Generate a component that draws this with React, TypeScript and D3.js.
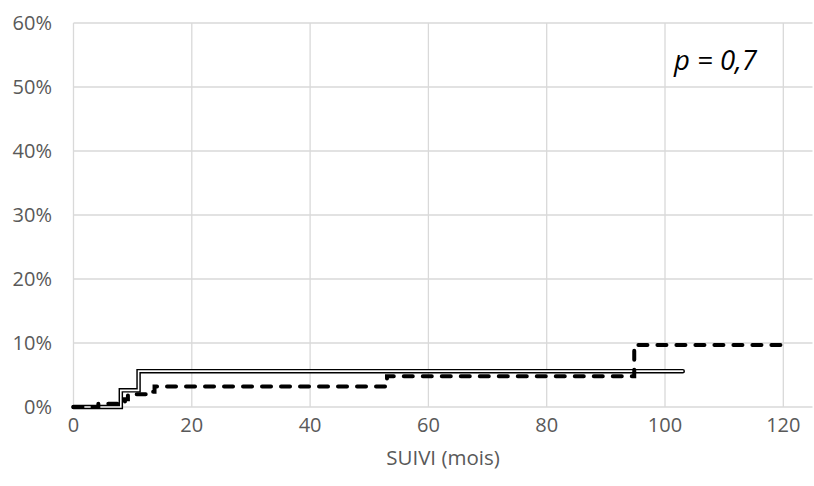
import React from "react";
import * as d3 from "d3";

const xTicks = [0, 20, 40, 60, 80, 100, 120];
const yTicks = [0, 10, 20, 30, 40, 50, 60];

const solidMonths = [0, 8, 11, 103];
const solidPct = [0, 2.6, 5.6, 5.6];

const dashedMonths = [0, 4.2, 8.7, 9.2, 12.9, 13.7, 53, 94.8, 120];
const dashedPct = [0, 0.5, 1.2, 2.0, 2.4, 3.2, 4.8, 9.7, 9.7];

const xTitle = "SUIVI (mois)";
const pLabel = "p = 0,7";

const W = 814;
const H = 486;

export default function App() {
  const x = d3.scaleLinear().domain([0, 120]).range([73.5, 783.3]);
  const xMaxPx = 812.5;
  const y = d3.scaleLinear().domain([0, 60]).range([407, 23]);

  const line = d3
    .line<[number, number]>()
    .x((d) => x(d[0]))
    .y((d) => y(d[1]))
    .curve(d3.curveStepAfter);

  const solidData: [number, number][] = solidMonths.map((m, i) => [m, solidPct[i]]);
  const dashedData: [number, number][] = dashedMonths.map((m, i) => [m, dashedPct[i]]);

  const font = "'Open Sans', sans-serif";
  const grey = "#595959";
  const grid = "#d9d9d9";

  return (
    <svg
      width={W}
      height={H}
      style={{ position: "absolute", left: 0, top: 0, background: "#fff" }}
    >
      <rect x={0} y={0} width={W} height={H} fill="#fff" />
      {yTicks.map((t) => (
        <line
          key={"gy" + t}
          x1={x(0)}
          x2={xMaxPx}
          y1={y(t)}
          y2={y(t)}
          stroke={grid}
          strokeWidth={1.3}
        />
      ))}
      {xTicks.map((t) => (
        <line
          key={"gx" + t}
          x1={x(t)}
          x2={x(t)}
          y1={y(0)}
          y2={y(60)}
          stroke={grid}
          strokeWidth={1.3}
        />
      ))}
      {yTicks.map((t) => (
        <text
          key={"ty" + t}
          x={52}
          y={y(t)}
          dy="0.36em"
          textAnchor="end"
          fontFamily={font}
          fontSize={20}
          fill={grey}
        >
          {t + "%"}
        </text>
      ))}
      {xTicks.map((t) => (
        <text
          key={"tx" + t}
          x={x(t)}
          y={425}
          dy="0.36em"
          textAnchor="middle"
          fontFamily={font}
          fontSize={20}
          fill={grey}
        >
          {t}
        </text>
      ))}
      <text
        x={(x(0) + xMaxPx) / 2}
        y={458}
        dy="0.36em"
        textAnchor="middle"
        fontFamily={font}
        fontSize={20.5}
        fill={grey}
      >
        {xTitle}
      </text>
      <text
        x={715.5}
        y={60}
        dy="0.36em"
        textAnchor="middle"
        fontFamily={font}
        fontStyle="italic"
        fontSize={27.5}
        fill="#000"
      >
        {pLabel}
      </text>
      <path
        d={line(solidData) || ""}
        fill="none"
        stroke="#000"
        strokeWidth={4.5}
        strokeLinecap="round"
        strokeLinejoin="miter"
      />
      <path
        d={line(solidData) || ""}
        fill="none"
        stroke="#fff"
        strokeWidth={1.6}
        strokeLinecap="round"
      />
      <path
        d={line(dashedData) || ""}
        fill="none"
        stroke="#000"
        strokeWidth={4}
        strokeDasharray="9 10"
        strokeLinecap="round"
      />
    </svg>
  );
}
